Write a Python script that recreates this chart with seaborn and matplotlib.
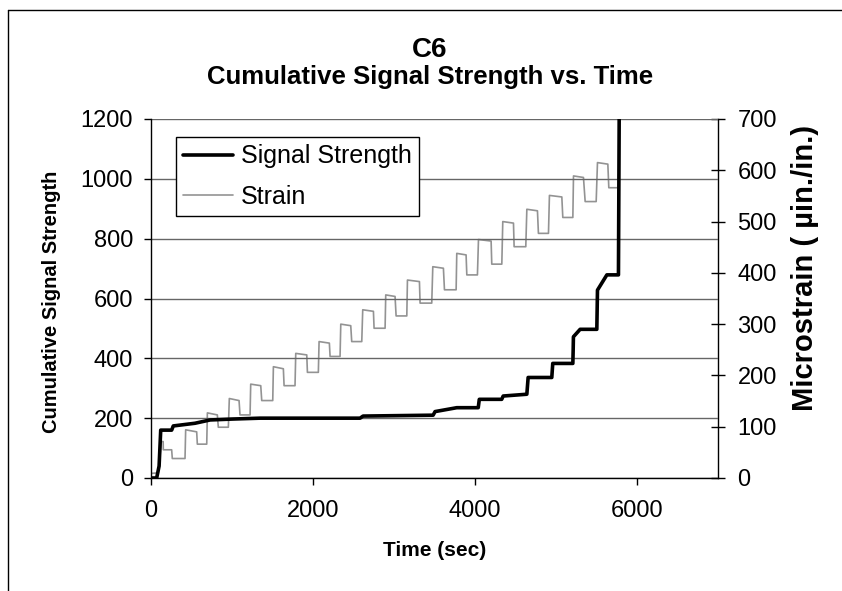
import matplotlib
matplotlib.use("Agg")
import matplotlib.pyplot as plt
from matplotlib.lines import Line2D
import seaborn as sns

sns.set_style("white")
plt.rcParams['font.family'] = ['Liberation Sans', 'DejaVu Sans']
plt.rcParams['text.color'] = 'black'
plt.rcParams['axes.labelcolor'] = 'black'
plt.rcParams['xtick.color'] = 'black'
plt.rcParams['ytick.color'] = 'black'

# Cumulative signal strength of acoustic emission hits over the test
signal_time = [0, 70, 100, 120, 255, 275, 543, 729, 1000, 1346, 2581, 2618,
               3483, 3507, 3775, 4040, 4053, 4330, 4348, 4640, 4656, 4948,
               4960, 5208, 5212, 5215, 5298, 5504, 5512, 5628, 5771, 5780]
signal_strength = [0, 0, 40, 160, 160, 174, 183, 194, 197, 200, 200, 207,
                   210, 222, 235, 235, 263, 263, 274, 280, 336, 336,
                   383, 383, 428, 472, 497, 497, 628, 679, 679, 1200]

# Strain gauge reading (load/unload steps)
strain_time = [0, 90, 110, 125, 150, 152, 255, 263, 420, 428, 564, 572,
               688, 696, 819, 831, 955, 967, 1087, 1099, 1223, 1231, 1355,
               1367, 1503, 1511, 1634, 1643, 1778, 1787, 1923, 1931, 2066,
               2075, 2202, 2211, 2334, 2343, 2466, 2478, 2602, 2614, 2746,
               2754, 2890, 2898, 3013, 3026, 3158, 3166, 3314, 3322, 3466,
               3479, 3610, 3623, 3767, 3775, 3890, 3899, 4030, 4043, 4199,
               4207, 4331, 4343, 4475, 4483, 4627, 4640, 4771, 4783, 4907,
               4919, 5072, 5084, 5208, 5216, 5339, 5360, 5496, 5512, 5640,
               5652, 5771, 5780]
strain_value = [9, 10, 40, 71, 71, 55, 55, 38, 38, 94, 90, 66,
                66, 127, 123, 99, 99, 155, 151, 123, 123, 183, 180,
                151, 151, 217, 213, 180, 180, 243, 240, 206, 206,
                266, 263, 237, 237, 300, 297, 266, 266, 328, 325,
                292, 292, 357, 354, 316, 316, 386, 383, 341, 341,
                412, 409, 367, 367, 438, 435, 396, 396, 465, 462,
                417, 417, 500, 497, 451, 451, 524, 521, 477, 477,
                551, 548, 508, 508, 589, 586, 539, 539, 615, 612,
                566, 566, 645]

x_ticks = [0, 2000, 4000, 6000]
left_ticks = [0, 200, 400, 600, 800, 1000, 1200]
right_ticks = [0, 100, 200, 300, 400, 500, 600, 700]

fig = plt.figure(figsize=(8.42, 5.91), dpi=100)
ax = fig.add_axes([151 / 842, 113 / 591, 567 / 842, 359 / 591])
ax2 = ax.twinx()
ax.set_zorder(ax2.get_zorder() + 1)
ax.patch.set_visible(False)

sns.lineplot(x=strain_time, y=strain_value, ax=ax2, color='#939393',
             linewidth=1.2, estimator=None, sort=False, legend=False)
sns.lineplot(x=signal_time, y=signal_strength, ax=ax, color='black',
             linewidth=2.6, estimator=None, sort=False, legend=False)

ax.set_xlim(0, 7000)
ax.set_ylim(0, 1200)
ax2.set_ylim(0, 700)
ax.set_xticks(x_ticks)
ax.set_yticks(left_ticks)
ax2.set_yticks(right_ticks)

ax.yaxis.grid(True, color='#666666', linewidth=1)
ax.xaxis.grid(False)
ax2.grid(False)

for s in ['top', 'right']:
    ax.spines[s].set_visible(False)
for s in ['left', 'bottom']:
    ax.spines[s].set_color('black')
    ax.spines[s].set_linewidth(1)
for s in ['top', 'left', 'bottom']:
    ax2.spines[s].set_visible(False)
ax2.spines['right'].set_color('black')
ax2.spines['right'].set_linewidth(1)

ax.tick_params(axis='y', direction='out', length=5, width=1, labelsize=17,
               pad=8, left=True, color='black', labelcolor='black')
ax.tick_params(axis='x', direction='out', length=5, width=1, labelsize=17,
               pad=11, bottom=True, color='black', labelcolor='black')
ax2.tick_params(axis='y', direction='inout', length=10, width=1, labelsize=17,
                pad=9, right=True, color='black', labelcolor='black')

ax.set_xlabel('Time (sec)', fontsize=15, fontweight='bold', color='black')
ax.xaxis.set_label_coords(0.5, -0.175)
ax.set_ylabel('Cumulative Signal Strength', fontsize=14.5, fontweight='bold',
              color='black')
ax.yaxis.set_label_coords(-0.159, 0.49)
ax2.set_ylabel('Microstrain ( \u00b5in./in.)', fontsize=21, fontweight='bold',
               color='black')
ax2.yaxis.set_label_coords(1.128, 0.585)

fig.text(430 / 842, 1 - 57 / 591, 'C6', fontsize=20, fontweight='bold',
         ha='center', va='baseline', color='black')
fig.text(430 / 842, 1 - 84 / 591, 'Cumulative Signal Strength vs. Time',
         fontsize=18.5, fontweight='bold', ha='center', va='baseline',
         color='black')

handles = [Line2D([], [], color='black', linewidth=2.6),
           Line2D([], [], color='#939393', linewidth=1.2)]
leg = ax.legend(handles, ['Signal Strength', 'Strain'], loc='upper left',
                bbox_to_anchor=(0.044, 0.95), fontsize=18, frameon=True,
                fancybox=False, edgecolor='black', framealpha=1,
                handlelength=2.0, handletextpad=0.3, labelspacing=0.65,
                borderpad=0.3, borderaxespad=0)
leg.get_frame().set_linewidth(1)
for t in leg.get_texts():
    t.set_color('black')

# outer chart-area border
fig.add_artist(Line2D([8 / 842, 8 / 842], [0, 1 - 10 / 591],
                      transform=fig.transFigure, color='black', linewidth=1))
fig.add_artist(Line2D([8 / 842, 1], [1 - 10 / 591, 1 - 10 / 591],
                      transform=fig.transFigure, color='black', linewidth=1))

fig.savefig('out.png', dpi=100)
